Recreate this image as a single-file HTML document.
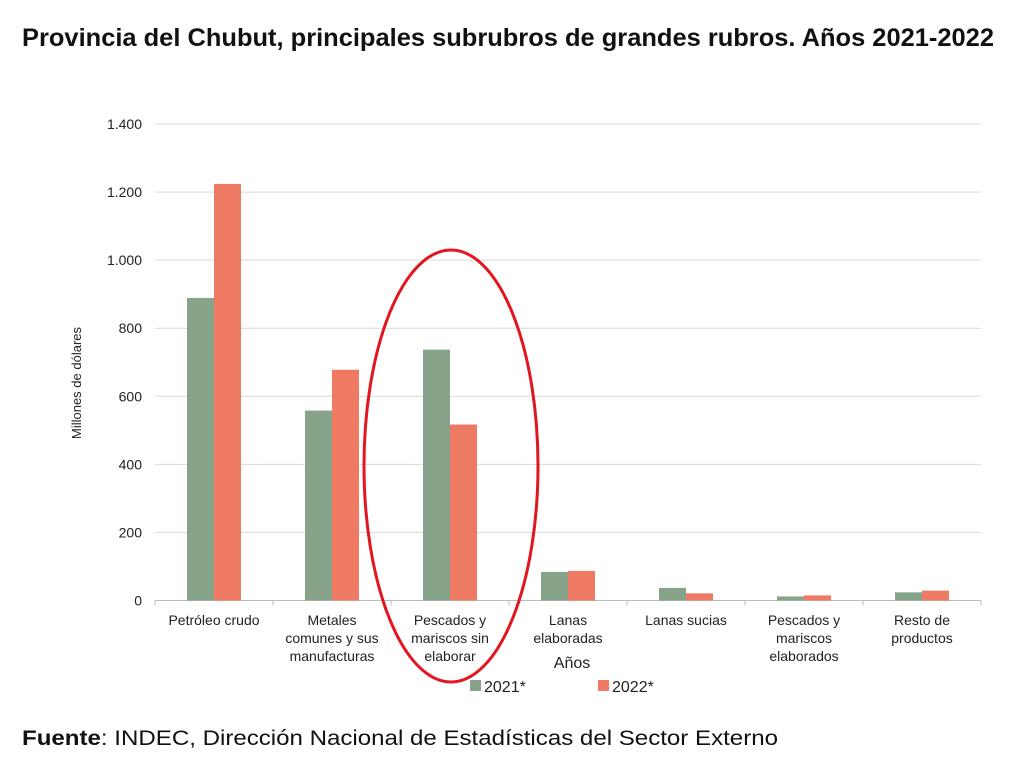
<!DOCTYPE html>
<html><head><meta charset="utf-8"><style>
body{margin:0;background:#fff;width:1024px;height:769px;overflow:hidden;font-family:"Liberation Sans",sans-serif}
</style></head><body>
<svg id="c" width="1024" height="769" xmlns="http://www.w3.org/2000/svg">
<text x="22" y="46" font-size="25" font-weight="bold" fill="#111" textLength="972" lengthAdjust="spacingAndGlyphs">Provincia del Chubut, principales subrubros de grandes rubros. Años 2021-2022</text>
<g id="grid"></g><g id="bars"></g><g id="labels"></g>
<text transform="translate(81,383) rotate(-90)" font-size="13" text-anchor="middle" fill="#222">Millones de dólares</text>
<text x="572" y="668" font-size="16" text-anchor="middle" fill="#222">Años</text>
<g>
<rect x="470" y="680" width="11" height="11" fill="#87a38a"/>
<text x="484" y="692" font-size="16" fill="#222">2021*</text>
<rect x="598" y="680" width="11" height="11" fill="#ef7a63"/>
<text x="612" y="692" font-size="16" fill="#222">2022*</text>
</g>
<ellipse cx="451" cy="466" rx="87" ry="216" fill="none" stroke="#e3161f" stroke-width="3"/>
<text x="22" y="745" font-size="21" fill="#111" textLength="756" lengthAdjust="spacingAndGlyphs"><tspan font-weight="bold">Fuente</tspan>: INDEC, Dirección Nacional de Estadísticas del Sector Externo</text>
</svg>
<script>
const categories=[["Petróleo crudo"],["Metales","comunes y sus","manufacturas"],["Pescados y","mariscos sin","elaborar"],["Lanas","elaboradas"],["Lanas sucias"],["Pescados y","mariscos","elaborados"],["Resto de","productos"]];
const values2021=[889,558,737,84,37,12,24];
const values2022=[1224,678,517,87,21,15,29];
const yTicks=[0,200,400,600,800,1000,1200,1400];
const yTickLabels=["0","200","400","600","800","1.000","1.200","1.400"];
const NS="http://www.w3.org/2000/svg";
const X0=155,X1=981,Y0=600.5,Y1=124;
const step=(X1-X0)/categories.length;
const y=v=>Y0-(v/1400)*(Y0-Y1);
const xc=i=>X0+step*(i+0.5);
function mk(t,a,p){const e=document.createElementNS(NS,t);for(const k in a)e.setAttribute(k,a[k]);p.appendChild(e);return e;}
const grid=document.getElementById('grid'),bars=document.getElementById('bars'),labels=document.getElementById('labels');
yTicks.forEach((v,i)=>{
 const l=mk('line',{x1:X0,x2:X1,y1:y(v),y2:y(v),stroke:v===0?'#bbb':'#d9d9d9','stroke-width':1},grid);
 
 
 const t=mk('text',{x:X0-13,y:y(v)+5,'font-size':14,'text-anchor':'end',fill:'#222'},labels);
 t.textContent=yTickLabels[i];
 
 
});
for(let i=0;i<=categories.length;i++){
 const tk=mk('line',{x1:X0+step*i,x2:X0+step*i,y1:Y0,y2:Y0+5,stroke:'#bbb'},grid);
 
 
}
const bw=27;
categories.forEach((c,i)=>{
 const a=mk('rect',{x:xc(i)-bw,y:y(values2021[i]),width:bw,height:Y0-y(values2021[i]),fill:'#87a38a'},bars);
 
 
 const b=mk('rect',{x:xc(i),y:y(values2022[i]),width:bw,height:Y0-y(values2022[i]),fill:'#ef7a63'},bars);
 
 
 c.forEach((ln,j)=>{
  const t=mk('text',{x:xc(i),y:625+j*18,'font-size':14,'text-anchor':'middle',fill:'#222'},labels);
  t.textContent=ln;
  
  
 });
});
</script>
</body></html>
